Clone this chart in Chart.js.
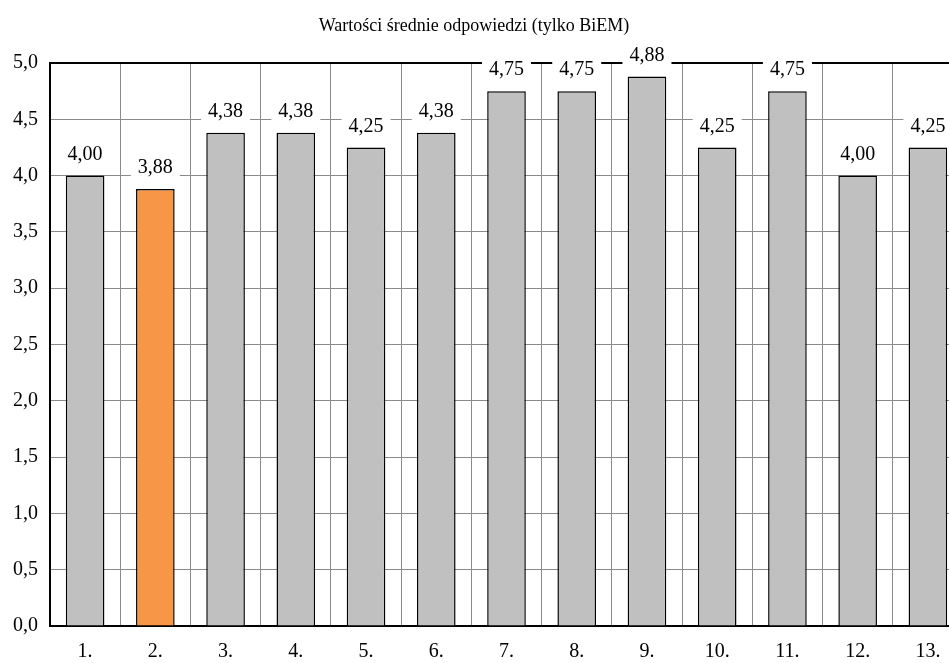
<!DOCTYPE html>
<html>
<head>
<meta charset="utf-8">
<script src="https://cdn.jsdelivr.net/npm/chart.js@4"></script>
<style>
html,body{margin:0;padding:0;background:#fff;overflow:hidden;width:949px;height:663px;}
#wrap{position:absolute;left:0;top:0;width:964px;height:663px;}
</style>
</head>
<body>
<div id="wrap"><canvas id="c" width="964" height="663"></canvas></div>
<script>
const categories = ['1.','2.','3.','4.','5.','6.','7.','8.','9.','10.','11.','12.','13.'];
const values = [4.00, 3.88, 4.38, 4.38, 4.25, 4.38, 4.75, 4.75, 4.88, 4.25, 4.75, 4.00, 4.25];
const highlightIndex = [1];
const titleText = 'Wartości średnie odpowiedzi (tylko BiEM)';

const FONT = "'Liberation Serif', 'Times New Roman', serif";
const fmt = v => v.toFixed(2).replace('.', ',');

const labelPlugin = {
  id: 'valueLabels',
  afterDatasetsDraw(chart) {
    const ctx = chart.ctx;
    const meta = chart.getDatasetMeta(0);
    ctx.save();
    ctx.font = '20px ' + FONT;
    ctx.textAlign = 'center';
    ctx.textBaseline = 'middle';
    meta.data.forEach((bar, i) => {
      const t = fmt(values[i]);
      const w = ctx.measureText(t).width + 14;
      const cy = bar.y - 22;
      ctx.fillStyle = '#ffffff';
      ctx.fillRect(bar.x - w / 2, cy - 12, w, 24);
      ctx.fillStyle = '#000000';
      ctx.fillText(t, bar.x, cy + 1);
    });
    ctx.restore();
  }
};

const titlePlugin = {
  id: 'titleText',
  afterDraw(chart) {
    const ctx = chart.ctx;
    ctx.save();
    ctx.font = '18px ' + FONT;
    ctx.textAlign = 'center';
    ctx.textBaseline = 'middle';
    ctx.fillStyle = '#000';
    ctx.fillText(titleText, 474, 26);
    ctx.restore();
  }
};

new Chart(document.getElementById('c'), {
  type: 'bar',
  data: {
    labels: categories,
    datasets: [{
      data: values,
      backgroundColor: values.map((v, i) => highlightIndex.includes(i) ? '#F79646' : '#C0C0C0'),
      borderColor: '#000000',
      borderWidth: 1.5,
      barPercentage: 0.55,
      categoryPercentage: 1.0
    }]
  },
  options: {
    responsive: false,
    animation: false,
    devicePixelRatio: 1,
    layout: { padding: { top: 63, right: 1, left: 0, bottom: 0 } },
    plugins: { legend: { display: false }, title: { display: false }, tooltip: { enabled: false } },
    scales: {
      x: {
        grid: { offset: true, color: '#8a8a8a', lineWidth: 1, drawTicks: false },
        border: { display: true, color: '#000', width: 2 },
        ticks: { color: '#000', font: { family: FONT, size: 20 }, padding: 14 },
        afterFit(s) { s.height = 37; }
      },
      y: {
        min: 0, max: 5,
        grid: {
          color: c => (c.tick && c.tick.value === 5) ? '#000' : '#8a8a8a',
          lineWidth: c => (c.tick && c.tick.value === 5) ? 2 : 1,
          drawTicks: false
        },
        border: { display: true, color: '#000', width: 2 },
        ticks: {
          stepSize: 0.5, color: '#000', padding: 12,
          font: { family: FONT, size: 20 },
          callback: v => Number(v).toFixed(1).replace('.', ',')
        },
        afterFit(s) { s.width = 50; }
      }
    }
  },
  plugins: [labelPlugin, titlePlugin]
});
</script>
</body>
</html>
